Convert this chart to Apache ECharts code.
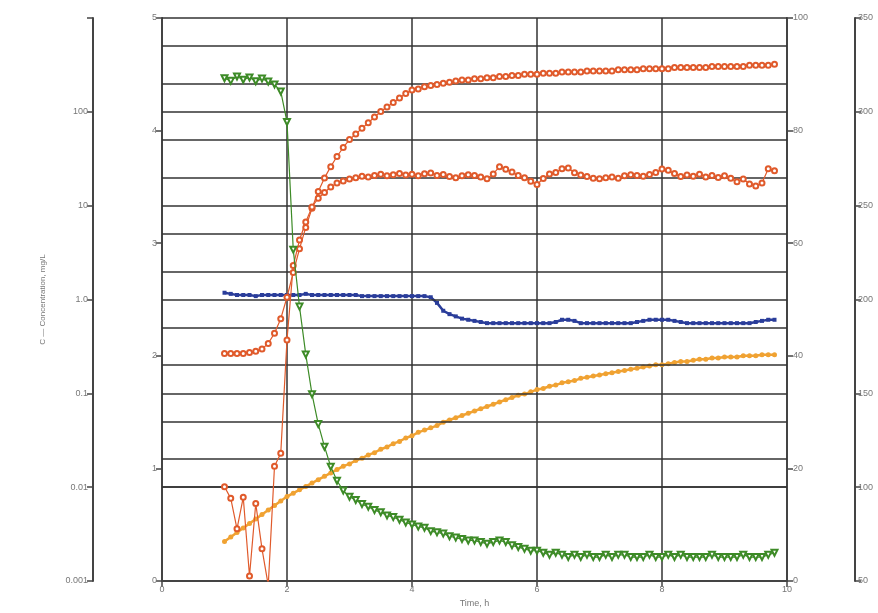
<!DOCTYPE html>
<html>
<head>
<meta charset="utf-8">
<script src="https://cdn.jsdelivr.net/npm/echarts@6/dist/echarts.min.js"></script>
<style>html,body{margin:0;padding:0;background:#fff;overflow:hidden}#c{width:878px;height:613px}</style>
</head>
<body>
<div id="c"></div>
<script>
const times = [1.0,1.1,1.2,1.3,1.4,1.5,1.6,1.7,1.8,1.9,
2.0,2.1,2.2,2.3,2.4,2.5,2.6,2.7,2.8,2.9,
3.0,3.1,3.2,3.3,3.4,3.5,3.6,3.7,3.8,3.9,
4.0,4.1,4.2,4.3,4.4,4.5,4.6,4.7,4.8,4.9,
5.0,5.1,5.2,5.3,5.4,5.5,5.6,5.7,5.8,5.9,
6.0,6.1,6.2,6.3,6.4,6.5,6.6,6.7,6.8,6.9,
7.0,7.1,7.2,7.3,7.4,7.5,7.6,7.7,7.8,7.9,
8.0,8.1,8.2,8.3,8.4,8.5,8.6,8.7,8.8,8.9,
9.0,9.1,9.2,9.3,9.4,9.5,9.6,9.7,9.8];

// left linear axis (0-5)
const redUpper = [2.02,2.02,2.02,2.02,2.03,2.04,2.06,2.11,2.20,2.33,
2.52,2.74,2.95,3.14,3.31,3.46,3.58,3.68,3.77,3.85,
3.92,3.97,4.02,4.07,4.12,4.17,4.21,4.25,4.29,4.33,
4.36,4.37,4.39,4.40,4.41,4.42,4.43,4.44,4.45,4.45,
4.46,4.46,4.47,4.47,4.48,4.48,4.49,4.49,4.50,4.50,
4.50,4.51,4.51,4.51,4.52,4.52,4.52,4.52,4.53,4.53,
4.53,4.53,4.53,4.54,4.54,4.54,4.54,4.55,4.55,4.55,
4.55,4.55,4.56,4.56,4.56,4.56,4.56,4.56,4.57,4.57,
4.57,4.57,4.57,4.57,4.58,4.58,4.58,4.58,4.59];

const blue = [2.56,2.55,2.54,2.54,2.54,2.53,2.54,2.54,2.54,2.54,
2.54,2.54,2.54,2.55,2.54,2.54,2.54,2.54,2.54,2.54,
2.54,2.54,2.53,2.53,2.53,2.53,2.53,2.53,2.53,2.53,
2.53,2.53,2.53,2.52,2.47,2.40,2.37,2.35,2.33,2.32,
2.31,2.30,2.29,2.29,2.29,2.29,2.29,2.29,2.29,2.29,
2.29,2.29,2.29,2.30,2.32,2.32,2.31,2.29,2.29,2.29,
2.29,2.29,2.29,2.29,2.29,2.29,2.30,2.31,2.32,2.32,
2.32,2.32,2.31,2.30,2.29,2.29,2.29,2.29,2.29,2.29,
2.29,2.29,2.29,2.29,2.29,2.30,2.31,2.32,2.32];

const orange = [0.35,0.39,0.43,0.47,0.51,0.55,0.59,0.63,0.67,0.71,
0.75,0.78,0.81,0.84,0.87,0.90,0.93,0.96,0.99,1.02,
1.04,1.07,1.09,1.12,1.14,1.17,1.19,1.22,1.24,1.27,
1.29,1.32,1.34,1.36,1.38,1.41,1.43,1.45,1.47,1.49,
1.51,1.53,1.55,1.57,1.59,1.61,1.63,1.65,1.66,1.68,
1.70,1.71,1.73,1.74,1.76,1.77,1.78,1.80,1.81,1.82,
1.83,1.84,1.85,1.86,1.87,1.88,1.89,1.90,1.91,1.92,
1.92,1.93,1.94,1.95,1.95,1.96,1.97,1.97,1.98,1.98,
1.99,1.99,1.99,2.00,2.00,2.00,2.01,2.01,2.01];

// log axis (0.001-1000)
const redLower = [0.0101,0.0076,0.0036,0.0078,0.00113,0.0067,0.0022,0.0009,0.0167,0.023,
0.37,2.3,4.3,6.7,9.7,12.0,13.8,15.8,17.4,18.3,
19.2,19.8,20.6,20.2,21.0,21.6,20.8,21.3,22.0,21.2,
21.6,20.8,21.9,22.3,21.0,21.5,20.4,19.8,20.9,21.4,
21.0,20.2,19.4,21.8,26.0,24.5,22.8,21.0,19.8,18.2,
16.8,19.5,21.8,22.6,24.8,25.2,22.4,21.2,20.5,19.6,
19.4,19.8,20.2,19.6,20.8,21.4,21.0,20.6,21.5,22.6,
24.6,23.8,22.0,20.4,21.2,20.6,21.6,20.2,21.0,20.0,
20.8,19.6,18.0,19.2,17.0,16.2,17.4,24.8,23.6];

const green = [228,214,238,220,232,212,226,210,196,165,
78,3.4,0.84,0.26,0.098,0.047,0.027,0.0165,0.0117,0.0092,
0.0079,0.0073,0.0066,0.0062,0.0057,0.0054,0.0050,0.0048,0.0045,0.0042,
0.0040,0.0038,0.0037,0.0034,0.0033,0.0032,0.0030,0.0029,0.0028,0.0027,
0.0027,0.0026,0.0025,0.0026,0.0027,0.0026,0.0024,0.0023,0.0022,0.0021,
0.0021,0.0020,0.0019,0.0020,0.0019,0.0018,0.0019,0.0018,0.0019,0.0018,
0.0018,0.0019,0.0018,0.0019,0.0019,0.0018,0.0018,0.0018,0.0019,0.0018,
0.0018,0.0019,0.0018,0.0019,0.0018,0.0018,0.0018,0.0018,0.0019,0.0018,
0.0018,0.0018,0.0018,0.0019,0.0018,0.0018,0.0018,0.0019,0.0020];

const logTickLabels = ['0.001','0.01','0.1','1.0','10','100',''];
const logGridValues = [1000,500,200,100,50,20,10,5,2,1,0.5,0.2,0.1,0.05,0.02,0.01,0.005,0.002];

const pair = arr => times.map((t, i) => [t, arr[i]]);
const axisCol = '#444';
const lab = {fontSize: 9, color: '#777', fontFamily: 'Liberation Sans, Arial, sans-serif'};

const chart = echarts.init(document.getElementById('c'), null, {renderer: 'canvas'});
chart.setOption({
  animation: false,
  backgroundColor: '#fff',
  grid: {left: 162, right: 91, top: 18, bottom: 25, containLabel: false},
  xAxis: {
    type: 'value', min: 0, max: 10, interval: 2,
    name: 'Time, h', nameLocation: 'middle', nameGap: 18,
    nameTextStyle: {fontSize: 9, color: '#777'},
    axisLine: {show: true, lineStyle: {color: axisCol, width: 2}},
    axisTick: {show: true, length: 6, lineStyle: {color: axisCol, width: 1.5}},
    axisLabel: Object.assign({margin: 4}, lab),
    splitLine: {show: true, lineStyle: {color: '#333', width: 1.5}}
  },
  yAxis: [
    {
      type: 'value', position: 'left', min: 0, max: 5, interval: 1,
      axisLine: {show: true, lineStyle: {color: axisCol, width: 2}},
      axisTick: {show: true, length: 6, lineStyle: {color: axisCol, width: 1.5}},
      axisLabel: Object.assign({margin: 5}, lab),
      splitLine: {show: false}
    },
    {
      type: 'log', logBase: 10, position: 'left', offset: 69, min: 0.001, max: 1000, splitNumber: 6,
      name: 'C — Concentration, mg/L', nameLocation: 'middle', nameGap: 46, nameRotate: 90,
      nameTextStyle: {fontSize: 8, color: '#777'},
      axisLine: {show: true, lineStyle: {color: axisCol, width: 2}},
      axisTick: {show: true, length: 6, lineStyle: {color: axisCol, width: 1.5}},
      axisLabel: Object.assign({margin: 5, formatter: v => {
        const k = Math.round(Math.log10(v)) + 3; return logTickLabels[k] || '';
      }}, lab),
      splitLine: {show: false}
    },
    {
      type: 'value', position: 'right', min: 0, max: 100, interval: 20,
      axisLine: {show: true, lineStyle: {color: axisCol, width: 2}},
      axisTick: {show: true, length: 6, lineStyle: {color: axisCol, width: 1.5}},
      axisLabel: Object.assign({margin: 6}, lab),
      splitLine: {show: false}
    },
    {
      type: 'value', position: 'right', offset: 68, min: 50, max: 350, interval: 50,
      axisLine: {show: true, lineStyle: {color: axisCol, width: 2}},
      axisTick: {show: true, length: 6, lineStyle: {color: axisCol, width: 1.5}},
      axisLabel: Object.assign({margin: 3}, lab),
      splitLine: {show: false}
    }
  ],
  series: [
    {
      type: 'line', yAxisIndex: 1, data: [], z: 1, silent: true,
      markLine: {
        silent: true, symbol: ['none', 'none'], label: {show: false},
        lineStyle: {type: 'solid', color: '#333', width: 1.5},
        data: logGridValues.map(v => ({yAxis: v}))
      }
    },
    {
      name: 'orange', type: 'line', yAxisIndex: 0, data: pair(orange), z: 3,
      symbol: 'circle', symbolSize: 5, color: '#f0a232',
      lineStyle: {width: 2.5, color: '#f0a232'}, itemStyle: {color: '#f0a232'}
    },
    {
      name: 'blue', type: 'line', yAxisIndex: 0, data: pair(blue), z: 4,
      symbol: 'rect', symbolSize: 4, color: '#2a3d9a',
      lineStyle: {width: 2.5, color: '#2a3d9a'}, itemStyle: {color: '#2a3d9a'}
    },
    {
      name: 'redUpper', type: 'line', yAxisIndex: 0, data: pair(redUpper), z: 5,
      symbol: 'emptyCircle', symbolSize: 5, color: '#e05a2b',
      lineStyle: {width: 1.2, color: '#e05a2b'}, itemStyle: {color: '#e05a2b', borderWidth: 1}
    },
    {
      name: 'redLower', type: 'line', yAxisIndex: 1, data: pair(redLower), z: 5,
      symbol: 'emptyCircle', symbolSize: 5, color: '#e05a2b',
      lineStyle: {width: 1.2, color: '#e05a2b'}, itemStyle: {color: '#e05a2b', borderWidth: 1}
    },
    {
      name: 'green', type: 'line', yAxisIndex: 1, data: pair(green), z: 6,
      symbol: 'emptyTriangle', symbolRotate: 180, symbolSize: 6, color: '#3d8b27',
      lineStyle: {width: 1.2, color: '#3d8b27'}, itemStyle: {color: '#3d8b27', borderWidth: 1}
    }
  ]
});
</script>
</body>
</html>
